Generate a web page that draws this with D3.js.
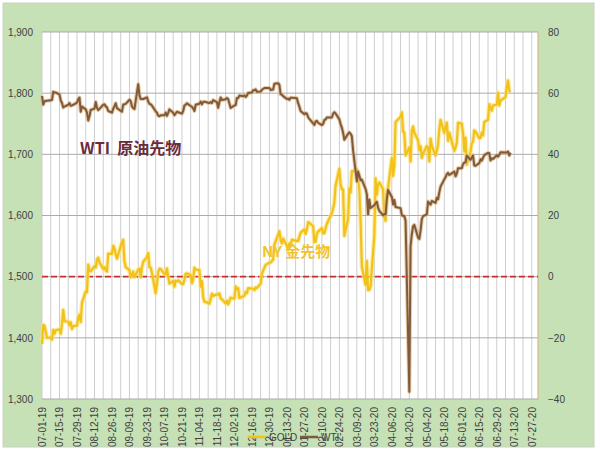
<!DOCTYPE html>
<html><head><meta charset="utf-8">
<script src="https://cdn.jsdelivr.net/npm/d3@7"></script>
<style>body{margin:0;background:#fff}svg{display:block}</style>
</head><body><svg id="chart" width="600" height="453"></svg>
<script>
// ---- data ----
const tradeDates = [
"2019-07-01","2019-07-02","2019-07-03","2019-07-05","2019-07-08","2019-07-09","2019-07-10","2019-07-11","2019-07-12","2019-07-15","2019-07-16","2019-07-17","2019-07-18","2019-07-19","2019-07-22","2019-07-23","2019-07-24","2019-07-25","2019-07-26","2019-07-29","2019-07-30","2019-07-31",
"2019-08-01","2019-08-02","2019-08-05","2019-08-06","2019-08-07","2019-08-08","2019-08-09","2019-08-12","2019-08-13","2019-08-14","2019-08-15","2019-08-16","2019-08-19","2019-08-20","2019-08-21","2019-08-22","2019-08-23","2019-08-26","2019-08-27","2019-08-28","2019-08-29","2019-08-30",
"2019-09-03","2019-09-04","2019-09-05","2019-09-06","2019-09-09","2019-09-10","2019-09-11","2019-09-12","2019-09-13","2019-09-16","2019-09-17","2019-09-18","2019-09-19","2019-09-20","2019-09-23","2019-09-24","2019-09-25","2019-09-26","2019-09-27","2019-09-30",
"2019-10-01","2019-10-02","2019-10-03","2019-10-04","2019-10-07","2019-10-08","2019-10-09","2019-10-10","2019-10-11","2019-10-14","2019-10-15","2019-10-16","2019-10-17","2019-10-18","2019-10-21","2019-10-22","2019-10-23","2019-10-24","2019-10-25","2019-10-28","2019-10-29","2019-10-30","2019-10-31",
"2019-11-01","2019-11-04","2019-11-05","2019-11-06","2019-11-07","2019-11-08","2019-11-11","2019-11-12","2019-11-13","2019-11-14","2019-11-15","2019-11-18","2019-11-19","2019-11-20","2019-11-21","2019-11-22","2019-11-25","2019-11-26","2019-11-27","2019-11-29",
"2019-12-02","2019-12-03","2019-12-04","2019-12-05","2019-12-06","2019-12-09","2019-12-10","2019-12-11","2019-12-12","2019-12-13","2019-12-16","2019-12-17","2019-12-18","2019-12-19","2019-12-20","2019-12-23","2019-12-24","2019-12-26","2019-12-27","2019-12-30","2019-12-31",
"2020-01-02","2020-01-03","2020-01-06","2020-01-07","2020-01-08","2020-01-09","2020-01-10","2020-01-13","2020-01-14","2020-01-15","2020-01-16","2020-01-17","2020-01-21","2020-01-22","2020-01-23","2020-01-24","2020-01-27","2020-01-28","2020-01-29","2020-01-30","2020-01-31",
"2020-02-03","2020-02-04","2020-02-05","2020-02-06","2020-02-07","2020-02-10","2020-02-11","2020-02-12","2020-02-13","2020-02-14","2020-02-18","2020-02-19","2020-02-20","2020-02-21","2020-02-24","2020-02-25","2020-02-26","2020-02-27","2020-02-28",
"2020-03-02","2020-03-03","2020-03-04","2020-03-05","2020-03-06","2020-03-09","2020-03-10","2020-03-11","2020-03-12","2020-03-13","2020-03-16","2020-03-17","2020-03-18","2020-03-19","2020-03-20","2020-03-23","2020-03-24","2020-03-25","2020-03-26","2020-03-27","2020-03-30","2020-03-31",
"2020-04-01","2020-04-02","2020-04-03","2020-04-06","2020-04-07","2020-04-08","2020-04-09","2020-04-13","2020-04-14","2020-04-15","2020-04-16","2020-04-17","2020-04-20","2020-04-21","2020-04-22","2020-04-23","2020-04-24","2020-04-27","2020-04-28","2020-04-29","2020-04-30",
"2020-05-01","2020-05-04","2020-05-05","2020-05-06","2020-05-07","2020-05-08","2020-05-11","2020-05-12","2020-05-13","2020-05-14","2020-05-15","2020-05-18","2020-05-19","2020-05-20","2020-05-21","2020-05-22","2020-05-26","2020-05-27","2020-05-28","2020-05-29",
"2020-06-01","2020-06-02","2020-06-03","2020-06-04","2020-06-05","2020-06-08","2020-06-09","2020-06-10","2020-06-11","2020-06-12","2020-06-15","2020-06-16","2020-06-17","2020-06-18","2020-06-19","2020-06-22","2020-06-23","2020-06-24","2020-06-25","2020-06-26","2020-06-29","2020-06-30",
"2020-07-01","2020-07-02","2020-07-06","2020-07-07","2020-07-08","2020-07-09","2020-07-10"
];
const goldPrice = [
1389.9,1420.9,1419.7,1400.1,1400.5,1397.1,1412.9,1406.7,1412.2,1414.1,1406.7,1423.6,1445.7,1427.1,1426.7,1420.4,1425.3,1414.5,1419.3,1419.9,1433.3,1437.8,
1426.0,1457.5,1476.1,1474.8,1519.6,1509.5,1508.5,1517.0,1514.8,1527.8,1531.0,1523.6,1512.7,1515.7,1510.4,1508.4,1537.6,1537.4,1550.3,1546.6,1536.4,1529.4,
1556.4,1560.4,1525.4,1515.5,1510.7,1499.3,1503.2,1508.2,1499.5,1511.5,1513.0,1499.2,1515.1,1524.3,1531.9,1538.6,1515.4,1515.0,1506.4,1472.9,
1489.2,1507.4,1513.3,1512.6,1504.3,1503.6,1513.4,1500.1,1488.7,1493.1,1483.5,1493.5,1492.3,1494.1,1488.2,1487.8,1495.3,1504.6,1505.3,1502.7,1489.6,1496.1,1514.8,
1511.4,1511.0,1483.7,1492.8,1466.6,1459.2,1456.8,1455.8,1463.9,1472.3,1468.5,1471.4,1470.6,1472.6,1464.6,1463.0,1456.1,1460.6,1454.7,1465.6,
1463.9,1484.0,1479.6,1481.3,1465.1,1467.8,1468.8,1475.1,1473.0,1481.2,1480.7,1480.3,1478.1,1482.3,1481.4,1488.6,1504.5,1514.5,1519.3,1522.8,1523.1,
1528.1,1552.4,1568.8,1574.3,1560.2,1554.3,1562.3,1550.4,1544.0,1554.1,1552.0,1560.3,1558.4,1558.1,1565.1,1571.9,1577.4,1569.8,1577.1,1589.2,1587.9,
1582.4,1556.5,1557.1,1570.3,1573.6,1579.5,1570.7,1571.0,1578.8,1586.4,1603.6,1611.8,1620.5,1648.8,1676.6,1650.0,1643.1,1642.5,1566.7,
1594.8,1644.4,1637.6,1672.4,1672.4,1675.7,1660.3,1642.3,1590.3,1516.7,1486.5,1525.8,1477.9,1478.6,1484.0,1567.6,1660.8,1634.1,1651.3,1654.1,1643.0,1596.6,
1591.4,1637.7,1645.7,1693.9,1664.6,1681.3,1752.8,1761.4,1768.8,1737.2,1735.7,1698.3,1711.2,1688.5,1737.6,1745.6,1735.6,1723.1,1706.6,1713.3,1694.2,
1700.9,1713.7,1710.2,1688.5,1725.6,1713.9,1698.0,1705.8,1716.3,1740.9,1756.3,1734.9,1745.4,1752.0,1721.9,1735.5,1705.5,1711.4,1718.7,1751.7,
1750.3,1734.0,1704.7,1727.3,1683.0,1704.2,1717.4,1720.7,1739.0,1737.3,1726.1,1727.1,1735.7,1730.9,1753.0,1756.4,1782.0,1775.8,1771.3,1780.3,1781.1,1800.5,
1779.9,1788.0,1793.5,1809.9,1820.6,1803.8,1801.9
];
const wtiPrice = [
59.09,56.25,57.34,57.51,57.66,57.83,60.43,60.20,60.21,59.58,57.62,56.78,55.30,55.63,56.22,56.77,55.88,56.02,56.20,56.87,58.05,58.58,
53.95,55.66,54.69,53.63,51.09,52.54,54.50,54.93,57.10,55.23,54.47,54.87,56.21,56.34,55.68,55.35,54.17,53.64,54.93,55.78,56.71,55.10,
53.94,56.26,56.30,56.52,57.85,57.40,55.75,55.09,54.85,62.90,59.34,58.11,58.13,58.09,58.64,57.29,56.49,56.41,55.91,54.07,
53.62,52.64,52.45,52.81,52.75,53.63,52.59,53.55,54.70,53.59,52.81,53.36,53.93,53.78,53.31,54.16,55.97,56.23,56.66,55.81,55.54,55.06,54.18,
56.20,56.54,57.23,56.35,57.15,57.24,56.86,56.80,57.12,56.77,57.72,57.05,55.21,57.11,58.58,57.77,58.01,58.41,58.11,55.17,
55.96,56.10,58.43,58.43,59.20,59.02,59.24,58.76,59.18,60.07,60.21,60.94,60.93,61.22,60.44,60.52,61.11,61.68,61.72,61.68,61.06,
61.18,63.05,63.27,62.70,59.61,59.56,59.04,58.08,58.23,57.81,58.52,58.54,58.34,56.74,55.59,54.19,53.14,53.48,53.33,52.14,51.56,
50.11,49.61,50.75,50.95,50.32,49.57,49.94,51.17,51.42,52.05,52.05,53.29,53.78,53.38,51.43,49.90,48.73,47.09,44.76,
46.75,47.18,46.78,45.90,41.28,31.13,34.36,32.98,31.50,31.73,28.70,26.95,20.37,25.22,22.43,23.36,24.01,24.49,22.60,21.51,20.09,20.48,
20.31,25.32,28.34,26.08,23.63,25.09,22.76,22.41,20.11,19.87,19.87,18.27,-37.63,10.01,13.78,16.50,16.94,12.78,12.34,15.06,18.84,
19.78,20.39,24.56,23.99,23.55,24.74,24.14,25.78,25.29,27.56,29.43,31.82,32.50,33.49,33.92,33.25,34.35,32.81,33.71,35.49,
35.44,36.81,37.29,37.41,39.55,38.19,38.94,39.60,36.34,36.26,37.12,38.38,37.96,38.84,39.75,40.46,40.37,38.01,38.72,38.49,39.70,39.27,
39.82,40.65,40.63,40.62,40.90,39.62,40.55
];
const xTickLabels = ["07-01-19","07-15-19","07-29-19","08-12-19","08-26-19","09-09-19","09-23-19","10-07-19","10-21-19","11-04-19","11-18-19","12-02-19","12-16-19","12-30-19","01-13-20","01-27-20","02-10-20","02-24-20","03-09-20","03-23-20","04-06-20","04-20-20","05-04-20","05-18-20","06-01-20","06-15-20","06-29-20","07-13-20","07-27-20"];
const goldTicks = [1300,1400,1500,1600,1700,1800,1900];
const wtiTicks = [-40,-20,0,20,40,60,80];
const seriesNames = ["GOLD","WTI"];
const wtiNote = "WTI  原油先物";
const goldNote = "NY 金先物";
const zeroLineValue = 0;

// ---- layout ----
const L = 42, R = 538, T = 32, B = 399;
const parseISO = d3.timeParse("%Y-%m-%d");
const parseTick = d3.timeParse("%m-%d-%y");
const rows = tradeDates.map((d, i) => ({date: parseISO(d), gold: goldPrice[i], wti: wtiPrice[i]}));

const x = d3.scaleTime().domain([parseISO("2019-07-01"), parseISO("2020-08-01")]).range([L, R]);
const yL = d3.scaleLinear().domain([1300, 1900]).range([B, T]);
const yR = d3.scaleLinear().domain([-40, 80]).range([B, T]);

const svg = d3.select("#chart");
const font = "'Liberation Sans', Arial, sans-serif";
const cjk = "'Noto Sans CJK JP', 'Noto Sans CJK SC', sans-serif";

// chart area
svg.append("rect").attr("x", 3).attr("y", 3).attr("width", 591).attr("height", 444)
  .attr("fill", "#C6E1B6").attr("stroke", "#C9CFC5").attr("stroke-width", 1);
svg.append("rect").attr("x", L).attr("y", T).attr("width", R - L).attr("height", B - T).attr("fill", "#ffffff");

// vertical weekly gridlines
const weeks = d3.timeMonday.range(x.domain()[0], d3.timeDay.offset(x.domain()[1], 1));
svg.append("g").selectAll("line").data(weeks).join("line")
  .attr("x1", d => x(d)).attr("x2", d => x(d)).attr("y1", T).attr("y2", B)
  .attr("stroke", "#CDCDCD").attr("stroke-width", 1);

// horizontal gridlines
svg.append("g").selectAll("line").data(goldTicks).join("line")
  .attr("x1", L).attr("x2", R).attr("y1", d => yL(d)).attr("y2", d => yL(d))
  .attr("stroke", "#ABABAB").attr("stroke-width", 1);

// right axis line
svg.append("line").attr("x1", R).attr("x2", R).attr("y1", T).attr("y2", B)
  .attr("stroke", "#D8B58E").attr("stroke-width", 1.2);

// zero line of WTI (dashed red)
svg.append("line").attr("x1", L).attr("x2", R)
  .attr("y1", yR(zeroLineValue)).attr("y2", yR(zeroLineValue))
  .attr("stroke", "#C8302E").attr("stroke-width", 1.6).attr("stroke-dasharray", "6,3");

// left axis
const axL = svg.append("g").attr("transform", `translate(${L},0)`)
  .call(d3.axisLeft(yL).tickValues(goldTicks).tickFormat(d3.format(",")).tickSize(0).tickPadding(9));
axL.select(".domain").remove();
axL.selectAll("text").attr("font-family", font).attr("font-size", 10).attr("fill", "#404040");

// right axis
const axR = svg.append("g").attr("transform", `translate(${R},0)`)
  .call(d3.axisRight(yR).tickValues(wtiTicks).tickSize(0).tickPadding(10));
axR.select(".domain").remove();
axR.selectAll("text").attr("font-family", font).attr("font-size", 10).attr("fill", "#404040");

// bottom axis
const axB = svg.append("g").attr("transform", `translate(0,${B})`)
  .call(d3.axisBottom(x).tickValues(xTickLabels.map(parseTick)).tickFormat(d3.timeFormat("%m-%d-%y")).tickSize(0));
axB.select(".domain").attr("stroke", "#BFBFBF");
axB.selectAll("text").attr("transform", "rotate(-90)").attr("text-anchor", "end")
  .attr("x", -8).attr("y", 0).attr("dy", "0.35em")
  .attr("font-family", font).attr("font-size", 10).attr("fill", "#404040");

// lines
const lineGold = d3.line().x(d => x(d.date)).y(d => yL(d.gold));
const lineWti = d3.line().x(d => x(d.date)).y(d => yR(d.wti));

svg.append("path").datum(rows).attr("d", lineGold).attr("fill", "none")
  .attr("stroke", "#FBE27E").attr("stroke-width", 4.5).attr("stroke-linejoin", "round").attr("opacity", 0.7);
svg.append("path").datum(rows).attr("d", lineGold).attr("fill", "none")
  .attr("stroke", "#F2C21B").attr("stroke-width", 2.2).attr("stroke-linejoin", "round");

svg.append("path").datum(rows).attr("d", lineWti).attr("fill", "none")
  .attr("stroke", "#E0B27E").attr("stroke-width", 4).attr("stroke-linejoin", "round").attr("opacity", 0.7);
svg.append("path").datum(rows).attr("d", lineWti).attr("fill", "none")
  .attr("stroke", "#7E5B3C").attr("stroke-width", 2).attr("stroke-linejoin", "round");

// annotations
svg.append("text").attr("x", 80).attr("y", 154).text(wtiNote)
  .attr("font-family", cjk).attr("font-weight", "bold").attr("font-size", 16)
  .attr("fill", "#6A2B3B").style("white-space", "pre");
svg.append("text").attr("x", 262).attr("y", 257).text(goldNote)
  .attr("font-family", cjk).attr("font-weight", "bold").attr("font-size", 15)
  .attr("fill", "#F2C42C");

// legend
const lg = svg.append("g").attr("font-family", font).attr("font-size", 10).attr("fill", "#404040");
const legendItems = [
  {name: seriesNames[0], color: "#F2C21B", x0: 248},
  {name: seriesNames[1], color: "#7E5B3C", x0: 300}
];
legendItems.forEach(it => {
  lg.append("line").attr("x1", it.x0).attr("x2", it.x0 + 18).attr("y1", 437).attr("y2", 437)
    .attr("stroke", it.color).attr("stroke-width", 2.5);
  lg.append("text").attr("x", it.x0 + 21).attr("y", 440.5).text(it.name);
});
</script>
</body></html>
